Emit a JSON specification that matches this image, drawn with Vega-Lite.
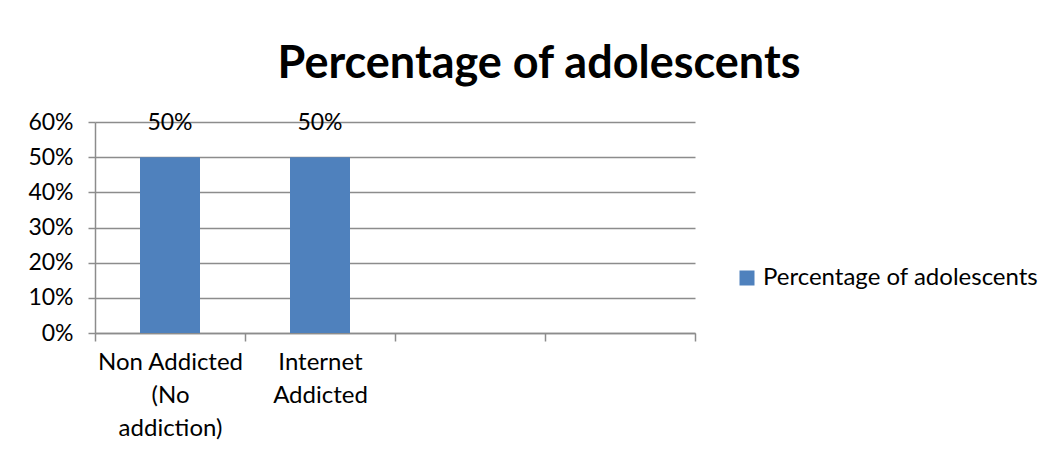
{
  "$schema": "https://vega.github.io/schema/vega-lite/v6.json",
  "width": 600,
  "height": 211,
  "autosize": {"type": "none"},
  "padding": {"left": 95, "top": 122, "right": 362, "bottom": 124},
  "background": "white",
  "title": {
    "text": "Percentage of adolescents",
    "font": "Lato",
    "fontSize": 45,
    "fontWeight": "bold",
    "color": "#000000",
    "anchor": "middle",
    "frame": "group",
    "baseline": "alphabetic",
    "dx": 144,
    "offset": -12
  },
  "data": {
    "values": [
      {"category": "Non Addicted (No addiction)", "series": "Percentage of adolescents", "value": 0.5},
      {"category": "Internet Addicted", "series": "Percentage of adolescents", "value": 0.5}
    ]
  },
  "encoding": {
    "x": {
      "field": "category",
      "type": "nominal",
      "sort": null,
      "scale": {
        "domain": ["Non Addicted (No addiction)", "Internet Addicted", "c3", "c4"],
        "paddingInner": 0,
        "paddingOuter": 0
      },
      "axis": {
        "title": null,
        "labelAngle": 0,
        "tickBand": "extent",
        "tickSize": 8,
        "tickColor": "#8c8c8c",
        "tickWidth": 1.5,
        "domainColor": "#8c8c8c",
        "domainWidth": 1.5,
        "labelFont": "Lato",
        "labelFontSize": 24,
        "labelColor": "#000000",
        "labelLineHeight": 33,
        "labelPadding": 9,
        "labelOverlap": false,
        "labelLimit": 0,
        "labelExpr": "datum.value == 'Non Addicted (No addiction)' ? ['Non Addicted', '(No', 'addiction)'] : datum.value == 'Internet Addicted' ? ['Internet', 'Addicted'] : ''"
      }
    },
    "y": {
      "field": "value",
      "type": "quantitative",
      "scale": {"domain": [0, 0.6]},
      "axis": {
        "title": null,
        "values": [0, 0.1, 0.2, 0.3, 0.4, 0.5, 0.6],
        "format": ".0%",
        "grid": true,
        "gridColor": "#8c8c8c",
        "gridWidth": 1.5,
        "domainColor": "#8c8c8c",
        "domainWidth": 1.5,
        "tickColor": "#8c8c8c",
        "tickWidth": 1.5,
        "tickSize": 7,
        "labelFont": "Lato",
        "labelFontSize": 23,
        "labelColor": "#000000",
        "labelPadding": 15
      }
    }
  },
  "layer": [
    {
      "mark": {"type": "bar", "width": {"band": 0.4}},
      "encoding": {
        "color": {
          "field": "series",
          "type": "nominal",
          "scale": {"range": ["#4F81BD"]},
          "legend": {
            "title": null,
            "orient": "none",
            "legendX": 640,
            "legendY": 144,
            "symbolType": "square",
            "symbolSize": 225,
            "symbolStrokeWidth": 0,
            "labelFont": "Lato",
            "labelFontSize": 24,
            "labelColor": "#000000",
            "labelLimit": 0
          }
        }
      }
    },
    {
      "mark": {"type": "text", "baseline": "bottom", "dy": -22, "font": "Lato", "fontSize": 23, "color": "#000000"},
      "encoding": {
        "text": {"field": "value", "type": "quantitative", "format": ".0%"}
      }
    }
  ],
  "config": {"view": {"stroke": null}}
}
